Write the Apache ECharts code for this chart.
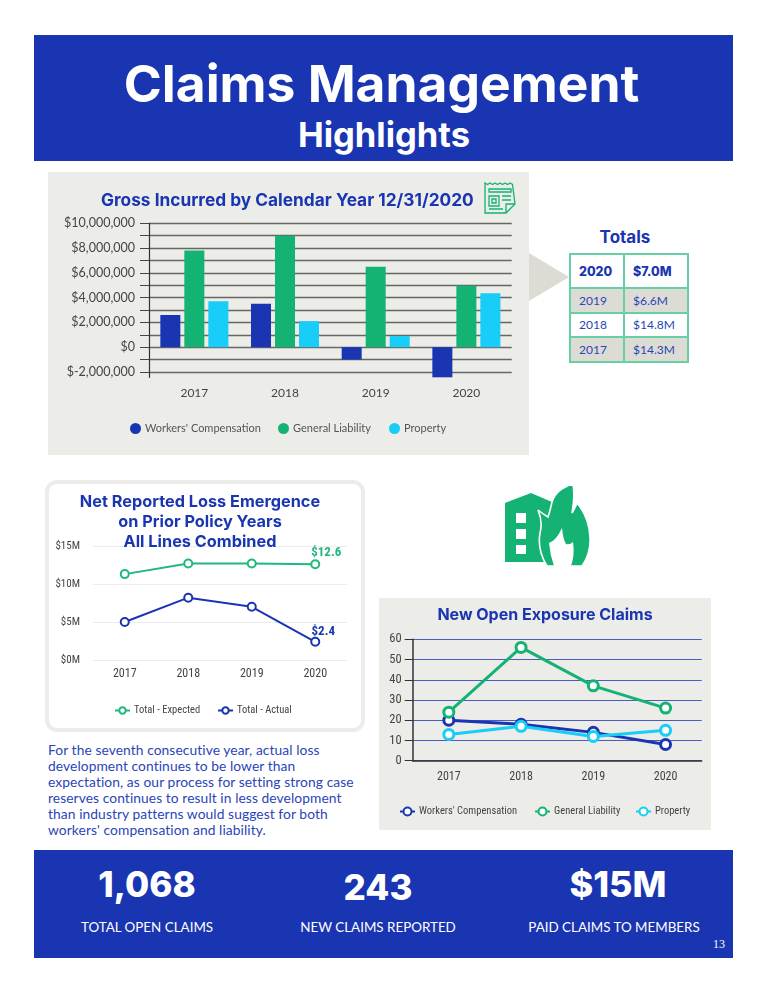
<!DOCTYPE html>
<html><head><meta charset="utf-8">
<script src="https://cdn.jsdelivr.net/npm/echarts@6/dist/echarts.min.js"></script>
<style>
html,body{margin:0;padding:0;background:#fff;width:768px;height:993px;overflow:hidden}
body{position:relative;font-family:Lato,sans-serif;color:#1f3ab5}
.abs{position:absolute}
.c{position:absolute;transform:translate(-50%,-50%);white-space:nowrap}
.panel{position:absolute;background:#ecece8}
.blue{position:absolute;background:#1a35b2}
table{position:absolute;left:569px;top:253px;width:118px;height:108px;border-collapse:collapse;table-layout:fixed;font-size:12px;background:#fff}
td{border:2px solid #66cfa3;padding:0 0 0 8px;color:#2a45b8}
tr:nth-child(even) td{background:#dcdcd4}
tr:first-child td{font-weight:800;font-size:12.5px;color:#1a35b2;font-family:Inter}
</style></head><body>
<div class="blue" style="left:34px;top:35px;width:699px;height:126px"></div>
<div class="c" style="left:381.5px;top:83px;color:#fff;font:700 51.5px Inter">Claims Management</div>
<div class="c" style="left:384px;top:134px;color:#fff;font:700 34.5px Inter">Highlights</div>

<div class="panel" style="left:48px;top:172px;width:481px;height:283px"></div>
<svg class="abs" style="left:484px;top:181px" width="32" height="33" viewBox="0 0 32 33" fill="none" stroke="#14b374" stroke-width="1.3">
<path d="M1 2 l2.5 1.5 l2.5 -1.5 l2.5 1.5 l2.5 -1.5 l2.5 1.5 l2.5 -1.5 l2.5 1.5 l2.5 -1.5 l2.5 1.5 l2.5 -1.5 l2.5 1.5 L31 23 L22 32 L1 32 Z"/>
<path d="M22 32 L22 23 L31 23 M5 8 H27 V11 H5 Z M5 15 H15 V25 H5 Z M8 18 H12 V22 H8 Z M18 15 H27 M18 19 H27 M5 28 H19"/></svg>
<div class="abs" style="left:529px;top:253px;width:0;height:0;border-top:24.5px solid transparent;border-bottom:24.5px solid transparent;border-left:40px solid #dcdcd4"></div>
<div class="c" style="left:625px;top:237px;font:700 17px Inter;color:#1a35b2">Totals</div>
<table id="tot"></table>

<div class="abs" style="left:45px;top:480px;width:312px;height:244px;border:4px solid #ecece8;border-radius:12px"></div>

<svg class="abs" style="left:490px;top:475px" width="100" height="100" viewBox="0 0 100 100">
<path fill="#14b374" d="M15 28 L41 18 L62 27 L62 50 L60 87 L15 87 Z"/>
<path fill="#14b374" stroke="#fff" stroke-width="1.6" d="M83 9 Q66 14 62 27 Q60 36 58 42 Q53 39 48 35 Q53 47 50 58 Q47 75 57 91 L92 91 Q101 78 100 62 Q99 42 87 28 Q85 33 82 38 Q85 22 83 9 Z"/>
<path fill="#fff" d="M26 38 h10 v10 h-10z M26 54 h10 v10 h-10z M26 70 h10 v9 h-10z M59 68 Q66 66 72 53 Q73 64 76 69 Q80 70 83 67 Q85 80 81 91 L64 91 Q60 80 59 68 Z"/>
</svg>

<div class="abs" id="para" style="left:48px;top:742px;font-size:13.8px;letter-spacing:.08px;line-height:16px;white-space:nowrap;color:#2a45b8"></div>

<div class="panel" style="left:379px;top:598px;width:332px;height:232px"></div>
<div class="blue" style="left:34px;top:850px;width:699px;height:108px"></div>
<div id="stats"></div>
<div class="abs" style="left:713px;top:937px;color:#fff;font:12px 'Liberation Serif',serif">13</div>

<div id="c1" class="abs" style="left:48px;top:172px;width:481px;height:283px"></div>
<div id="c2" class="abs" style="left:45px;top:480px;width:320px;height:252px"></div>
<div id="c3" class="abs" style="left:379px;top:598px;width:332px;height:232px"></div>

<script>
// Gross incurred
const years = ['2017','2018','2019','2020'];
const grossWC = [2600000,3500000,-1000000,-2430000];
const grossGL = [7800000,9000000,6500000,4950000];
const grossProp = [3700000,2100000,900000,4350000];
const grossTicks = [-2000000,-1000000,0,1000000,2000000,3000000,4000000,5000000,6000000,7000000,8000000,9000000,10000000];
const grossLabels = [-2000000,0,2000000,4000000,6000000,8000000,10000000];
// Net reported loss emergence
const expected = [11.3,12.7,12.7,12.6];
const actual = [5.0,8.2,7.0,2.4];
// New open exposure claims
const openWC = [20,18,14,8];
const openGL = [24,56,37,26];
const openProp = [13,17,12,15];
// Tables and text
const totalsRows = [['2020','$7.0M'],['2019','$6.6M'],['2018','$14.8M'],['2017','$14.3M']];
const statValues = ['1,068','243','$15M'];
const statLabels = ['TOTAL OPEN CLAIMS','NEW CLAIMS REPORTED','PAID CLAIMS TO MEMBERS'];
const paragraph = ['For the seventh consecutive year, actual loss','development continues to be lower than','expectation, as our process for setting strong case','reserves continues to result in less development','than industry patterns would suggest for both',"workers' compensation and liability."];

const NAVY='#1a35b2', GREEN='#14b374', CYAN='#18cdf7', LINEGREEN='#1fb87c';
const SANS='Lato', HEAD='Inter', NARROW='"Roboto Condensed"';

document.getElementById('tot').innerHTML = '<colgroup><col style="width:54px"><col style="width:64px"></colgroup>'+totalsRows.map((r,i)=>`<tr style="height:${i?24.5:34}px"><td>${r[0]}</td><td>${r[1]}</td></tr>`).join('');
document.getElementById('para').innerHTML = paragraph.join('<br>');
const statX=[147,378,618], statY=[884,887,884], labX=[147,378,614];
document.getElementById('stats').innerHTML = statValues.map((v,i)=>
 `<div class="c" style="left:${statX[i]}px;top:${statY[i]}px;color:#fff;font:800 ${i==2?36:35}px Inter">${v}</div>`+
 `<div class="c" style="left:${labX[i]}px;top:927px;color:#fff;font-size:13.4px">${statLabels[i]}</div>`).join('');

const names3 = ["Workers' Compensation",'General Liability','Property'];

// Chart 1
echarts.init(document.getElementById('c1')).setOption({
  animation:false,
  title:{text:'Gross Incurred by Calendar Year 12/31/2020',left:48,top:15,textStyle:{fontFamily:HEAD,fontWeight:700,fontSize:17.3,color:NAVY}},
  legend:names3.map((n,i)=>({data:[n],left:[82,230,341][i],top:251,icon:'circle',itemWidth:11,itemHeight:11,itemGap:0,padding:0,
    textStyle:{fontFamily:SANS,fontSize:11,color:'#555',padding:[0,0,0,-1]}})),
  grid:{left:101,top:51.3,width:362.7,height:154},
  xAxis:{type:'category',data:years,axisLine:{show:false,onZero:false},axisTick:{show:false},
    axisLabel:{margin:10,fontFamily:SANS,fontSize:12,color:'#444'}},
  yAxis:{type:'value',min:-2430000,max:10000000,
    axisLine:{show:true,lineStyle:{color:'#333',width:1.2}},
    axisTick:{show:true,length:9,customValues:grossTicks,lineStyle:{color:'#444'}},
    axisLabel:{customValues:grossLabels,margin:14,fontFamily:SANS,fontSize:12.5,color:'#444',padding:[6,0,0,0],
      formatter:v=>'$'+Number(v).toLocaleString('en-US')},
    splitLine:{show:true,lineStyle:{color:'#666',width:1.4}}},
  series:[[names3[0],grossWC,NAVY],[names3[1],grossGL,GREEN],[names3[2],grossProp,CYAN]].map(s=>({
    type:'bar',name:s[0],data:s[1],barGap:'20%',barCategoryGap:'25%',itemStyle:{color:s[2]}}))
});

// Chart 2
const names2=['Total - Expected','Total - Actual'];
const lastLabel=(color,off)=>({show:true,position:'top',offset:off,fontFamily:NARROW,fontWeight:700,fontSize:13,color:color,
   formatter:p=>p.dataIndex===3?'$'+p.value.toFixed(1):''});
echarts.init(document.getElementById('c2')).setOption({
  animation:false,
  title:{text:'Net Reported Loss Emergence\non Prior Policy Years\nAll Lines Combined',left:150,top:7,textAlign:'center',
    textStyle:{fontFamily:HEAD,fontWeight:700,fontSize:16.3,lineHeight:20,color:NAVY,align:'center'},z:10},
  legend:names2.map((n,i)=>({data:[n],left:[69,172][i],top:225,itemWidth:15,itemHeight:8,itemGap:0,padding:0,
    textStyle:{fontFamily:NARROW,fontSize:10.5,color:'#444',padding:[0,0,0,-1]}})),
  grid:{left:48,top:66,width:254,height:114},
  xAxis:{type:'category',data:years,axisLine:{show:false},axisTick:{show:false},
    axisLabel:{margin:8,fontFamily:NARROW,fontSize:12,color:'#444'}},
  yAxis:{type:'value',min:0,max:15,interval:5,axisLine:{show:false},axisTick:{show:false},
    axisLabel:{margin:13,fontFamily:NARROW,fontSize:11,color:'#444',padding:[6,0,0,0],formatter:v=>'$'+v+'M'},
    splitLine:{lineStyle:{color:'#ececec',width:1.2}}},
  series:[
   {type:'line',name:names2[0],data:expected,symbol:'circle',symbolSize:8,showAllSymbol:true,
    lineStyle:{color:LINEGREEN,width:2},itemStyle:{color:'#fff',borderColor:LINEGREEN,borderWidth:2},
    label:lastLabel(LINEGREEN,[11,5])},
   {type:'line',name:names2[1],data:actual,symbol:'circle',symbolSize:8,showAllSymbol:true,
    lineStyle:{color:NAVY,width:2},itemStyle:{color:'#fff',borderColor:NAVY,borderWidth:2},
    label:lastLabel(NAVY,[8,6])}
  ]
});

// Chart 3
echarts.init(document.getElementById('c3')).setOption({
  animation:false,
  title:{text:'New Open Exposure Claims',left:'center',top:4,textStyle:{fontFamily:HEAD,fontWeight:700,fontSize:16,color:NAVY}},
  legend:names3.map((n,i)=>({data:[n],left:[20,155,256][i],top:208,itemWidth:15,itemHeight:10,itemGap:0,padding:0,
    textStyle:{fontFamily:NARROW,fontSize:10.5,color:'#444',padding:[0,0,0,-1]}})),
  grid:{left:33.7,top:41.3,width:289,height:121.4},
  xAxis:{type:'category',data:years,axisLine:{lineStyle:{color:'#333',width:1.5}},
    axisTick:{alignWithLabel:true,length:5,lineStyle:{color:'#333'}},
    axisLabel:{margin:10,fontFamily:NARROW,fontSize:12,color:'#444'}},
  yAxis:{type:'value',min:0,max:60,interval:10,axisLine:{show:true,lineStyle:{color:'#333',width:1.5}},
    axisTick:{show:true,length:8,lineStyle:{color:'#333'}},
    axisLabel:{margin:11,fontFamily:NARROW,fontSize:12.5,color:'#444',padding:[3,0,0,0]},
    splitLine:{lineStyle:{color:'#4a5cc4',width:1}}},
  series:[[names3[0],openWC,NAVY],[names3[1],openGL,GREEN],[names3[2],openProp,CYAN]].map(s=>({
    type:'line',name:s[0],data:s[1],symbol:'circle',symbolSize:10,showAllSymbol:true,
    lineStyle:{color:s[2],width:3},itemStyle:{color:'#fff',borderColor:s[2],borderWidth:3}}))
});
</script></body></html>
